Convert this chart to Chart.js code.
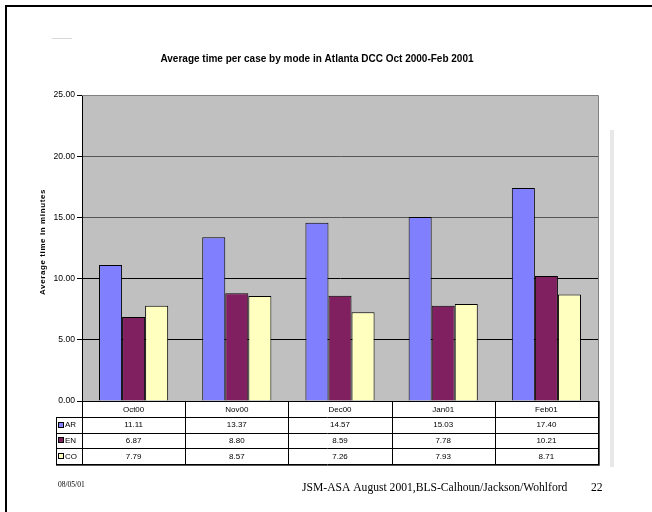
<!DOCTYPE html>
<html>
<head>
<meta charset="utf-8">
<title>Average time per case by mode</title>
<script src="https://cdn.jsdelivr.net/npm/chart.js@4/dist/chart.umd.min.js"></script>
<style>
  html, body { margin: 0; padding: 0; background: #fff; }
  #wrap { width: 652px; height: 512px; }
</style>
</head>
<body>
<div id="wrap"><canvas id="c" width="652" height="512"></canvas></div>
<script>
// Months shown along the category axis
const months = ['Oct00', 'Nov00', 'Dec00', 'Jan01', 'Feb01'];
// Average minutes per case for each interview mode
const arMinutes = [11.11, 13.37, 14.57, 15.03, 17.40];
const enMinutes = [6.87, 8.80, 8.59, 7.78, 10.21];
const coMinutes = [7.79, 8.57, 7.26, 7.93, 8.71];
const seriesNames = ['AR', 'EN', 'CO'];
const seriesColors = ['#8080FF', '#802060', '#FFFFC0'];
const yTicks = [0, 5, 10, 15, 20, 25];

const chartTitle = 'Average time per case by mode in Atlanta DCC Oct 2000-Feb 2001';
const yTitle = 'Average time in minutes';
const footerDate = '08/05/01';
const footerText = 'JSM-ASA August 2001,BLS-Calhoun/Jackson/Wohlford';
const footerPage = '22';

const SANS = '"Liberation Sans", Arial, sans-serif';
const SERIF = '"Liberation Serif", "Times New Roman", serif';

const seriesValues = [arMinutes, enMinutes, coMinutes];

// Page furniture, plot background and the data table under the chart
const slidePlugin = {
  id: 'slide',
  beforeDraw(chart) {
    const ctx = chart.ctx;
    const a = chart.chartArea;
    ctx.save();
    ctx.fillStyle = '#fff';
    ctx.fillRect(0, 0, chart.width, chart.height);
    ctx.fillStyle = '#C0C0C0';
    ctx.fillRect(a.left, a.top, a.right - a.left, a.bottom - a.top);
    ctx.restore();
  },
  afterDraw(chart) {
    const ctx = chart.ctx;
    const a = chart.chartArea;
    ctx.save();

    // slide frame
    ctx.fillStyle = '#000';
    ctx.fillRect(5, 5, chart.width - 5, 2);
    ctx.fillRect(5, 5, 2, chart.height - 5);

    // faint rule near the top left and the scroll strip on the right
    ctx.fillStyle = '#D8D8D8';
    ctx.fillRect(52, 38, 20, 1);
    ctx.fillStyle = '#E8E8E8';
    ctx.fillRect(610, 130, 4, 337);

    // plot border (top and right)
    ctx.strokeStyle = '#808080';
    ctx.lineWidth = 1;
    ctx.beginPath();
    ctx.moveTo(a.left, a.top + 0.5);
    ctx.lineTo(a.right + 0.5, a.top + 0.5);
    ctx.lineTo(a.right + 0.5, a.bottom);
    ctx.stroke();

    // title
    ctx.fillStyle = '#000';
    ctx.font = 'bold 10px ' + SANS;
    ctx.textAlign = 'center';
    ctx.textBaseline = 'middle';
    ctx.fillText(chartTitle, 317, 59);

    // y axis title
    ctx.save();
    ctx.translate(43, (a.top + a.bottom) / 2 - 6);
    ctx.rotate(-Math.PI / 2);
    ctx.font = 'bold 8px ' + SANS;
    ctx.letterSpacing = '0.6px';
    ctx.fillText(yTitle, 0, 0);
    ctx.restore();

    // data table
    const n = months.length;
    const colW = (a.right - a.left) / n;
    const rowH = 15.75;
    const top = Math.round(a.bottom);
    const legL = 56;
    const bottom = Math.round(top + rowH * 4);
    ctx.strokeStyle = '#000';
    ctx.lineWidth = 1;
    ctx.beginPath();
    // horizontal rules
    ctx.moveTo(a.left, top + 0.5);
    ctx.lineTo(a.right + 1, top + 0.5);
    for (let r = 1; r <= 4; r++) {
      const y = Math.round(top + rowH * r) + 0.5;
      ctx.moveTo(legL, y);
      ctx.lineTo(a.right + 1, y);
    }
    // vertical rules
    ctx.moveTo(legL + 0.5, Math.round(top + rowH) + 0.5);
    ctx.lineTo(legL + 0.5, bottom + 0.5);
    for (let i = 0; i <= n; i++) {
      const x = Math.round(a.left + colW * i) + 0.5;
      ctx.moveTo(x, top);
      ctx.lineTo(x, bottom + 0.5);
    }
    ctx.stroke();
    // shadow edge on the right and bottom
    ctx.strokeStyle = '#555';
    ctx.beginPath();
    ctx.moveTo(Math.round(a.right) + 1.5, top);
    ctx.lineTo(Math.round(a.right) + 1.5, bottom + 1.5);
    ctx.lineTo(legL, bottom + 1.5);
    ctx.stroke();

    ctx.fillStyle = '#000';
    ctx.font = '8px ' + SANS;
    ctx.textAlign = 'center';
    ctx.textBaseline = 'middle';
    for (let i = 0; i < n; i++) {
      const cx = a.left + colW * (i + 0.5);
      ctx.fillText(months[i], cx, top + rowH / 2 + 0.5);
      for (let s = 0; s < seriesValues.length; s++) {
        ctx.fillText(seriesValues[s][i].toFixed(2), cx, top + rowH * (s + 1.5) + 0.5);
      }
    }
    // legend keys in the first column
    ctx.textAlign = 'left';
    for (let s = 0; s < seriesNames.length; s++) {
      const cy = top + rowH * (s + 1.5);
      ctx.fillStyle = seriesColors[s];
      ctx.fillRect(58, Math.round(cy - 3), 6, 6);
      ctx.strokeStyle = '#000';
      ctx.strokeRect(58.5, Math.round(cy - 3) + 0.5, 5, 5);
      ctx.fillStyle = '#000';
      ctx.fillText(seriesNames[s], 65, cy + 0.5);
    }

    // footer
    ctx.font = '7.5px ' + SERIF;
    ctx.textAlign = 'left';
    ctx.fillText(footerDate, 58, 485);
    ctx.font = '11.6px ' + SERIF;
    ctx.fillText(footerText, 302, 488);
    ctx.fillText(footerPage, 591, 488);

    ctx.restore();
  }
};

const datasets = seriesNames.map((name, s) => ({
  label: name,
  data: seriesValues[s],
  backgroundColor: seriesColors[s],
  borderColor: '#000',
  borderWidth: 1,
  categoryPercentage: 0.67,
  barPercentage: 1.0
}));

new Chart(document.getElementById('c'), {
  type: 'bar',
  data: { labels: months, datasets },
  plugins: [slidePlugin],
  options: {
    responsive: false,
    animation: false,
    devicePixelRatio: 1,
    layout: { padding: { left: 30, right: 54, top: 95, bottom: 111 } },
    plugins: {
      legend: { display: false },
      title: { display: false },
      tooltip: { enabled: false }
    },
    scales: {
      x: { display: false, offset: true },
      y: {
        min: 0,
        max: 25,
        afterBuildTicks(scale) { scale.ticks = yTicks.map(v => ({ value: v })); },
        afterFit(scale) { scale.width = 52; },
        ticks: {
          color: '#000',
          font: { family: SANS, size: 8.6 },
          padding: 2,
          callback: v => Number(v).toFixed(2)
        },
        grid: {
          color: ctx => {
            const v = ctx.tick ? ctx.tick.value : 0;
            if (v === 25) return '#808080';
            return v >= 15 ? '#555555' : '#000000';
          },
          tickColor: '#000',
          tickLength: 5,
          lineWidth: 1
        },
        border: { display: true, color: '#000', width: 1 }
      }
    }
  }
});
</script>
</body>
</html>
